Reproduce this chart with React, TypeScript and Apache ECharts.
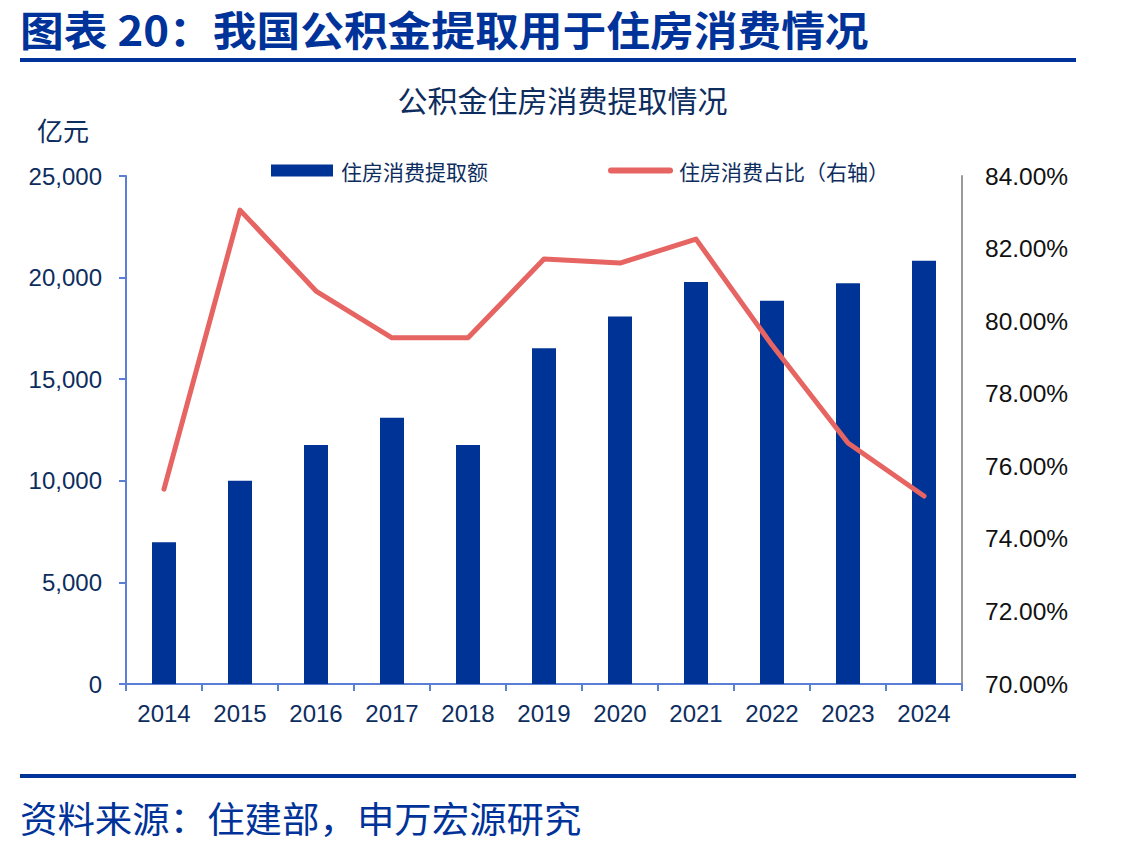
import React, { useEffect, useRef } from "react";
import * as echarts from "echarts";

// Years on the category axis
const years = ["2014", "2015", "2016", "2017", "2018", "2019", "2020", "2021", "2022", "2023", "2024"];
// Housing-consumption withdrawals, 亿元
const withdrawAmount = [6970, 10000, 11760, 13100, 11760, 16520, 18080, 19780, 18860, 19720, 20830];
// Share of housing consumption in total withdrawals, %
const housingShare = [75.37, 83.06, 80.83, 79.54, 79.54, 81.71, 81.6, 82.26, 79.34, 76.64, 75.18];

const leftTicks = { min: 0, max: 25000, interval: 5000 };
const rightTicks = { min: 70, max: 84, interval: 2 };

const BLUE = "#003399";
const NAVY = "#0d2d5e";
const RED = "#e66461";
const FONT = "'Liberation Sans', 'Noto Sans CJK SC', sans-serif";
const CJK = "'Noto Sans CJK SC', sans-serif";

export default function App() {
  const ref = useRef<HTMLDivElement>(null);

  useEffect(() => {
    if (!ref.current) return;
    const chart = echarts.init(ref.current, undefined, { renderer: "svg" });
    chart.setOption({
      animation: false,
      backgroundColor: "#ffffff",
      grid: { left: 126, right: 163, top: 176, bottom: 168, containLabel: false },
      graphic: [
        {
          type: "text",
          x: 20,
          y: 8,
          scaleX: 1.067,
          style: { text: "图表 20：我国公积金提取用于住房消费情况", font: `bold 41px ${CJK}`, fill: BLUE },
        },
        { type: "rect", shape: { x: 20, y: 58, width: 1056, height: 4 }, style: { fill: BLUE } },
        {
          type: "text",
          left: "center",
          top: 84,
          style: { text: "公积金住房消费提取情况", font: `30px ${CJK}`, fill: NAVY },
        },
        {
          type: "text",
          left: 37,
          top: 116,
          style: { text: "亿元", font: `26px ${CJK}`, fill: NAVY },
        },
        { type: "rect", shape: { x: 20, y: 774, width: 1056, height: 4 }, style: { fill: BLUE } },
        {
          type: "text",
          x: 20,
          y: 799,
          scaleX: 1.04,
          style: { text: "资料来源：住建部，申万宏源研究", font: `36px ${CJK}`, fill: BLUE },
        },
      ],
      legend: [
        {
          data: ["住房消费提取额"],
          left: 271,
          top: 160,
          padding: 0,
          itemWidth: 62,
          itemHeight: 12,
          icon: "rect",
          textStyle: { fontFamily: CJK, fontSize: 21, color: NAVY, padding: [0, 0, 0, 3] },
        },
        {
          data: ["住房消费占比（右轴）"],
          left: 608,
          top: 160,
          padding: 0,
          itemWidth: 65,
          itemHeight: 6,
          icon: "path://M3,0 L62,0 A3,3 0 0 1 62,6 L3,6 A3,3 0 0 1 3,0 Z",
          textStyle: { fontFamily: CJK, fontSize: 21, color: NAVY, padding: [0, 0, 0, 1] },
        },
      ],
      xAxis: {
        type: "category",
        data: years,
        axisLine: { lineStyle: { color: "#5b7fd6", width: 2 } },
        axisTick: { show: true, length: 7, lineStyle: { color: "#5b7fd6", width: 2 } },
        axisLabel: { fontFamily: FONT, fontSize: 24, color: NAVY, margin: 17 },
      },
      yAxis: [
        {
          type: "value",
          ...leftTicks,
          position: "left",
          splitLine: { show: false },
          axisLine: { show: true, lineStyle: { color: "#5b7fd6", width: 2 } },
          axisTick: { show: true, inside: false, length: 7, lineStyle: { color: "#5b7fd6", width: 2 } },
          axisLabel: {
            fontFamily: FONT,
            fontSize: 24,
            color: NAVY,
            margin: 24,
            formatter: (v: number) => v.toLocaleString("en-US"),
          },
        },
        {
          type: "value",
          ...rightTicks,
          position: "right",
          splitLine: { show: false },
          axisLine: { show: true, lineStyle: { color: "#9a9a9a", width: 2 } },
          axisTick: { show: false },
          axisLabel: {
            fontFamily: FONT,
            fontSize: 24.5,
            color: "#111111",
            margin: 23,
            formatter: (v: number) => v.toFixed(2) + "%",
          },
        },
      ],
      series: [
        {
          name: "住房消费提取额",
          type: "bar",
          data: withdrawAmount,
          barWidth: 24,
          itemStyle: { color: "#003396" },
        },
        {
          name: "住房消费占比（右轴）",
          type: "line",
          yAxisIndex: 1,
          data: housingShare,
          symbol: "none",
          itemStyle: { color: RED },
          lineStyle: { color: RED, width: 5, cap: "round", join: "round" },
        },
      ],
    });
    return () => chart.dispose();
  }, []);

  return (
    <div
      ref={ref}
      style={{ position: "absolute", left: 0, top: 0, width: 1125, height: 852, background: "#fff" }}
    />
  );
}
